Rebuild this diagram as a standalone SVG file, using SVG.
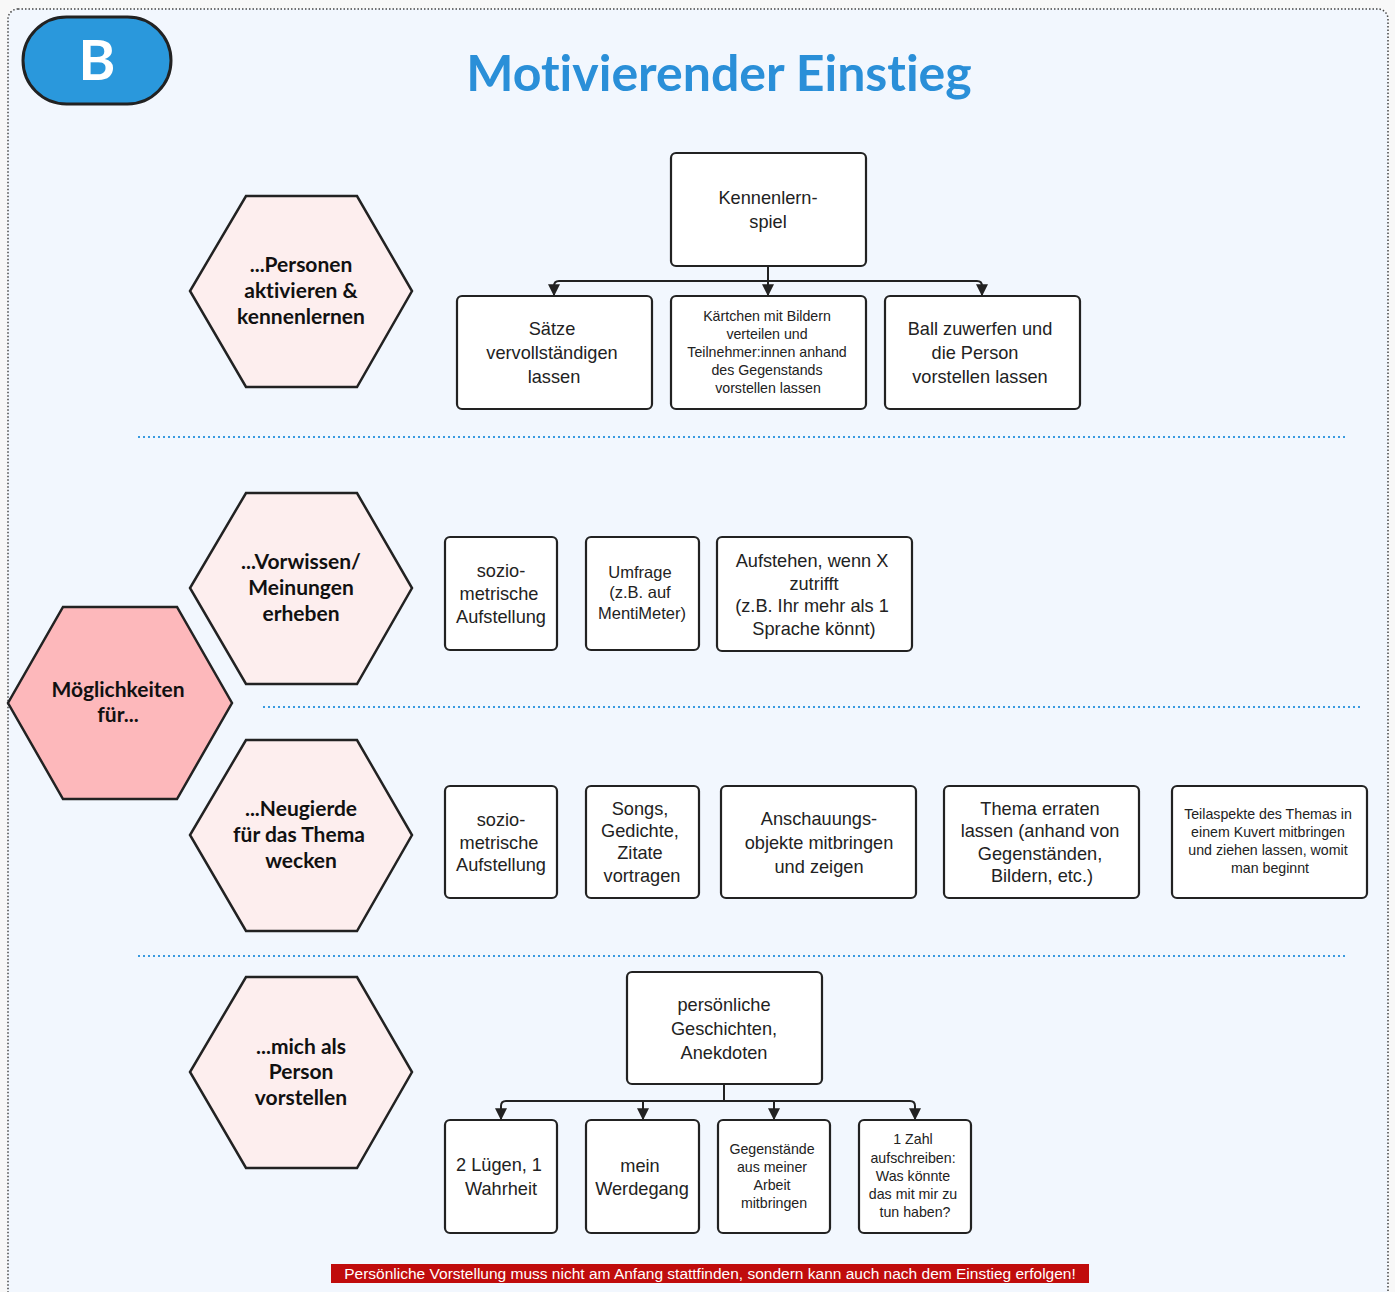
<svg xmlns="http://www.w3.org/2000/svg" width="1395" height="1292" viewBox="0 0 1395 1292">
<defs>
<style>
text{font-variant-ligatures:none}
.bx{fill:#fff;stroke:#222;stroke-width:2.2}
.hx{fill:#fdeeee;stroke:#222;stroke-width:2.5}
.hxb{fill:#fdb8bb;stroke:#222;stroke-width:2.5}
.t{font-family:"Liberation Sans",Arial,sans-serif;font-size:18.2px;fill:#222;text-anchor:middle}
.s{font-family:"Liberation Sans",Arial,sans-serif;font-size:14.2px;fill:#222;text-anchor:middle}
.h{font-family:Lato,"Liberation Sans",sans-serif;font-weight:bold;font-size:21px;fill:#111;text-anchor:middle}
.sep{stroke:#3a9be0;stroke-width:2;stroke-dasharray:2 3;fill:none}
.cn{stroke:#222;stroke-width:2;fill:none}
</style>
<marker id="ar" viewBox="0 0 10 10" refX="9" refY="5" markerWidth="6" markerHeight="6" orient="auto"><path d="M0,0 L10,5 L0,10 z" fill="#222"/></marker>
</defs>
<rect width="1395" height="1292" fill="#f8f8f8"/>
<rect x="8" y="9" width="1380" height="1300" rx="10" fill="#f2f7fe" stroke="#444" stroke-width="1.5" stroke-dasharray="1.5 2"/>
<g id="badge">
<rect x="23" y="17" width="148" height="87" rx="43.5" fill="#2a98dc" stroke="#222" stroke-width="3"/>
<text x="97" y="80" font-family="Lato,'Liberation Sans',sans-serif" font-weight="bold" font-size="56" fill="#fff" text-anchor="middle">B</text>
</g>
<text id="title" x="719" y="91" font-family="Lato,'Liberation Sans',sans-serif" font-weight="bold" font-size="50" fill="#2a8fd8" text-anchor="middle">Motivierender Einstieg</text>
<g id="separators">
<line class="sep" x1="138" y1="437" x2="1348" y2="437"/>
<line class="sep" x1="263" y1="707" x2="1363" y2="707"/>
<line class="sep" x1="138" y1="956" x2="1348" y2="956"/>
</g>
<g id="connectors">
<path class="cn" d="M768,266 V281 M554,289 V286 Q554,281 559,281 H977 Q982,281 982,286 V289" />
<path class="cn" d="M554,287 V295" marker-end="url(#ar)"/>
<path class="cn" d="M768,281 V295" marker-end="url(#ar)"/>
<path class="cn" d="M982,287 V295" marker-end="url(#ar)"/>
<path class="cn" d="M724,1084 V1101 M501,1110 V1106 Q501,1101 506,1101 H910 Q915,1101 915,1106 V1110"/>
<path class="cn" d="M501,1108 V1119" marker-end="url(#ar)"/>
<path class="cn" d="M643,1101 V1119" marker-end="url(#ar)"/>
<path class="cn" d="M774,1101 V1119" marker-end="url(#ar)"/>
<path class="cn" d="M915,1108 V1119" marker-end="url(#ar)"/>
</g>
<g id="hex-main">
<polygon class="hxb" points="63,607 177,607 232,703 177,799 63,799 8,703"/>
<text class="h" x="118" y="697">Möglichkeiten</text>
<text class="h" x="118" y="722">für...</text>
</g>
<g id="hex-personen">
<polygon class="hx" points="246,196 357,196 412,291 357,387 246,387 190,291"/>
<text class="h" x="301" y="272">...Personen</text>
<text class="h" x="301" y="298">aktivieren &amp;</text>
<text class="h" x="301" y="324">kennenlernen</text>
</g>
<g id="hex-vorwissen">
<polygon class="hx" points="246,493 357,493 412,588 357,684 246,684 190,588"/>
<text class="h" x="301" y="569">...Vorwissen/</text>
<text class="h" x="301" y="595">Meinungen</text>
<text class="h" x="301" y="621">erheben</text>
</g>
<g id="hex-neugierde">
<polygon class="hx" points="246,740 357,740 412,835 357,931 246,931 190,835"/>
<text class="h" x="301" y="816">...Neugierde</text>
<text class="h" x="299" y="842">für das Thema</text>
<text class="h" x="301" y="868">wecken</text>
</g>
<g id="hex-person">
<polygon class="hx" points="246,977 357,977 412,1072 357,1168 246,1168 190,1072"/>
<text class="h" x="301" y="1054">...mich als</text>
<text class="h" x="301" y="1079">Person</text>
<text class="h" x="301" y="1105">vorstellen</text>
</g>
<g id="box-kennenlernspiel">
<rect class="bx" x="671" y="153" width="195" height="113" rx="5"/>
<text class="t" x="768" y="204">Kennenlern-</text>
<text class="t" x="768" y="228">spiel</text>
</g>
<g id="box-saetze">
<rect class="bx" x="457" y="296" width="195" height="113" rx="5"/>
<text class="t" x="552" y="335">Sätze</text>
<text class="t" x="552" y="359">vervollständigen</text>
<text class="t" x="554" y="383">lassen</text>
</g>
<g id="box-kaertchen">
<rect class="bx" x="671" y="296" width="195" height="113" rx="5"/>
<text class="s" x="767" y="321">Kärtchen mit Bildern</text>
<text class="s" x="767" y="339">verteilen und</text>
<text class="s" x="767" y="357">Teilnehmer:innen anhand</text>
<text class="s" x="767" y="375">des Gegenstands</text>
<text class="s" x="768" y="393">vorstellen lassen</text>
</g>
<g id="box-ball">
<rect class="bx" x="885" y="296" width="195" height="113" rx="5"/>
<text class="t" x="980" y="335">Ball zuwerfen und</text>
<text class="t" x="975" y="359">die Person</text>
<text class="t" x="980" y="383">vorstellen lassen</text>
</g>
<g id="box-sozio1">
<rect class="bx" x="445" y="537" width="112" height="113" rx="5"/>
<text class="t" x="501" y="577">sozio-</text>
<text class="t" x="499" y="600">metrische</text>
<text class="t" x="501" y="623">Aufstellung</text>
</g>
<g id="box-umfrage">
<rect class="bx" x="586" y="537" width="113" height="113" rx="5"/>
<text class="s" x="640" y="578" style="font-size:16.5px">Umfrage</text>
<text class="s" x="640" y="598" style="font-size:16.5px">(z.B. auf</text>
<text class="s" x="642" y="619" style="font-size:16.5px">MentiMeter)</text>
</g>
<g id="box-aufstehen">
<rect class="bx" x="717" y="537" width="195" height="114" rx="5"/>
<text class="t" x="812" y="567">Aufstehen, wenn X</text>
<text class="t" x="814" y="590">zutrifft</text>
<text class="t" x="812" y="612">(z.B. Ihr mehr als 1</text>
<text class="t" x="814" y="635">Sprache könnt)</text>
</g>
<g id="box-sozio2">
<rect class="bx" x="445" y="786" width="112" height="112" rx="5"/>
<text class="t" x="501" y="826">sozio-</text>
<text class="t" x="499" y="849">metrische</text>
<text class="t" x="501" y="871">Aufstellung</text>
</g>
<g id="box-songs">
<rect class="bx" x="586" y="786" width="113" height="112" rx="5"/>
<text class="t" x="640" y="815">Songs,</text>
<text class="t" x="640" y="837">Gedichte,</text>
<text class="t" x="640" y="859">Zitate</text>
<text class="t" x="642" y="882">vortragen</text>
</g>
<g id="box-anschauung">
<rect class="bx" x="721" y="786" width="195" height="112" rx="5"/>
<text class="t" x="819" y="825">Anschauungs-</text>
<text class="t" x="819" y="849">objekte mitbringen</text>
<text class="t" x="819" y="873">und zeigen</text>
</g>
<g id="box-thema">
<rect class="bx" x="944" y="786" width="195" height="112" rx="5"/>
<text class="t" x="1040" y="815">Thema erraten</text>
<text class="t" x="1040" y="837">lassen (anhand von</text>
<text class="t" x="1040" y="860">Gegenständen,</text>
<text class="t" x="1042" y="882">Bildern, etc.)</text>
</g>
<g id="box-teilaspekte">
<rect class="bx" x="1172" y="786" width="195" height="112" rx="5"/>
<text class="s" x="1268" y="819">Teilaspekte des Themas in</text>
<text class="s" x="1268" y="837">einem Kuvert mitbringen</text>
<text class="s" x="1268" y="855">und ziehen lassen, womit</text>
<text class="s" x="1270" y="873">man beginnt</text>
</g>
<g id="box-geschichten">
<rect class="bx" x="627" y="972" width="195" height="112" rx="5"/>
<text class="t" x="724" y="1011">persönliche</text>
<text class="t" x="724" y="1035">Geschichten,</text>
<text class="t" x="724" y="1059">Anekdoten</text>
</g>
<g id="box-luegen">
<rect class="bx" x="445" y="1120" width="112" height="113" rx="5"/>
<text class="t" x="499" y="1171">2 Lügen, 1</text>
<text class="t" x="501" y="1195">Wahrheit</text>
</g>
<g id="box-werdegang">
<rect class="bx" x="586" y="1120" width="113" height="113" rx="5"/>
<text class="t" x="640" y="1172">mein</text>
<text class="t" x="642" y="1195">Werdegang</text>
</g>
<g id="box-gegenstaende">
<rect class="bx" x="718" y="1120" width="112" height="113" rx="5"/>
<text class="s" x="772" y="1154">Gegenstände</text>
<text class="s" x="772" y="1172">aus meiner</text>
<text class="s" x="772" y="1190">Arbeit</text>
<text class="s" x="774" y="1208">mitbringen</text>
</g>
<g id="box-zahl">
<rect class="bx" x="859" y="1120" width="112" height="113" rx="5"/>
<text class="s" x="913" y="1144">1 Zahl</text>
<text class="s" x="913" y="1163">aufschreiben:</text>
<text class="s" x="913" y="1181">Was könnte</text>
<text class="s" x="913" y="1199">das mit mir zu</text>
<text class="s" x="915" y="1217">tun haben?</text>
</g>
<g id="banner">
<rect x="331" y="1264" width="758" height="19" fill="#c00c0c"/>
<text x="710" y="1279" font-family="'Liberation Sans',Arial,sans-serif" font-size="15.5" fill="#fff" text-anchor="middle">Persönliche Vorstellung muss nicht am Anfang stattfinden, sondern kann auch nach dem Einstieg erfolgen!</text>
</g>
</svg>
